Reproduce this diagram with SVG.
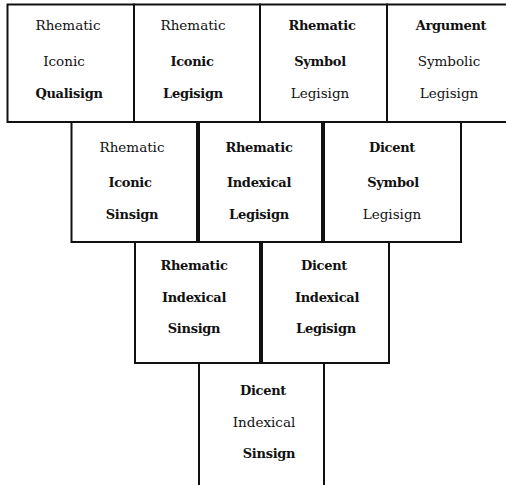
<svg xmlns="http://www.w3.org/2000/svg" width="506" height="485" viewBox="0 0 506 485">
<style>
.cell{fill:#fff;stroke:#111;stroke-width:2}
.thick{stroke:#111;stroke-width:4;fill:none}
text{font-family:"DejaVu Serif","Liberation Serif",serif;font-size:13.5px;fill:#111;text-anchor:middle}
.b{font-weight:bold;font-size:13px;letter-spacing:-0.3px}
</style>
<rect width="506" height="485" fill="#fff"/>
<g id="rhematic-iconic-qualisign">
<rect class="cell" x="7.5" y="4.5" width="126.5" height="117.5"/>
<text x="68" y="30">Rhematic</text><text x="64" y="66">Iconic</text><text class="b" x="69" y="98">Qualisign</text>
</g>
<g id="rhematic-iconic-legisign">
<rect class="cell" x="134" y="4.5" width="126" height="117.5"/>
<text x="193" y="30">Rhematic</text><text class="b" x="192" y="66">Iconic</text><text class="b" x="193" y="98">Legisign</text>
</g>
<g id="rhematic-symbol-legisign">
<rect class="cell" x="260" y="4.5" width="127" height="117.5"/>
<text class="b" x="322" y="30">Rhematic</text><text class="b" x="320" y="66">Symbol</text><text x="320" y="98">Legisign</text>
</g>
<g id="argument-symbolic-legisign">
<rect class="cell" x="387" y="4.5" width="122" height="117.5"/>
<text class="b" x="451" y="30">Argument</text><text x="449" y="66">Symbolic</text><text x="449" y="98">Legisign</text>
</g>
<g id="rhematic-iconic-sinsign">
<rect class="cell" x="71.5" y="122" width="126.5" height="120"/>
<text x="132" y="152">Rhematic</text><text class="b" x="130" y="187">Iconic</text><text class="b" x="132" y="219">Sinsign</text>
</g>
<g id="rhematic-indexical-legisign">
<rect class="cell" x="198" y="122" width="125" height="120"/>
<text class="b" x="259" y="152">Rhematic</text><text class="b" x="259" y="187">Indexical</text><text class="b" x="259" y="219">Legisign</text>
</g>
<g id="dicent-symbol-legisign">
<rect class="cell" x="323" y="122" width="138" height="120"/>
<text class="b" x="392" y="152">Dicent</text><text class="b" x="393" y="187">Symbol</text><text x="392" y="219">Legisign</text>
</g>
<g id="rhematic-indexical-sinsign">
<rect class="cell" x="135" y="242" width="126" height="121"/>
<text class="b" x="194" y="270">Rhematic</text><text class="b" x="194" y="302">Indexical</text><text class="b" x="194" y="333">Sinsign</text>
</g>
<g id="dicent-indexical-legisign">
<rect class="cell" x="261" y="242" width="128" height="121"/>
<text class="b" x="324" y="270">Dicent</text><text class="b" x="327" y="302">Indexical</text><text class="b" x="326" y="333">Legisign</text>
</g>
<g id="dicent-indexical-sinsign">
<rect class="cell" x="199" y="363" width="125" height="126"/>
<text class="b" x="263" y="395">Dicent</text><text x="264" y="427">Indexical</text><text class="b" x="269" y="458">Sinsign</text>
</g>
<g id="connectors">
<line class="thick" x1="198" y1="122" x2="198" y2="242"/>
<line class="thick" x1="323" y1="122" x2="323" y2="242"/>
<line class="thick" x1="261" y1="242" x2="261" y2="363"/>
</g>
</svg>
